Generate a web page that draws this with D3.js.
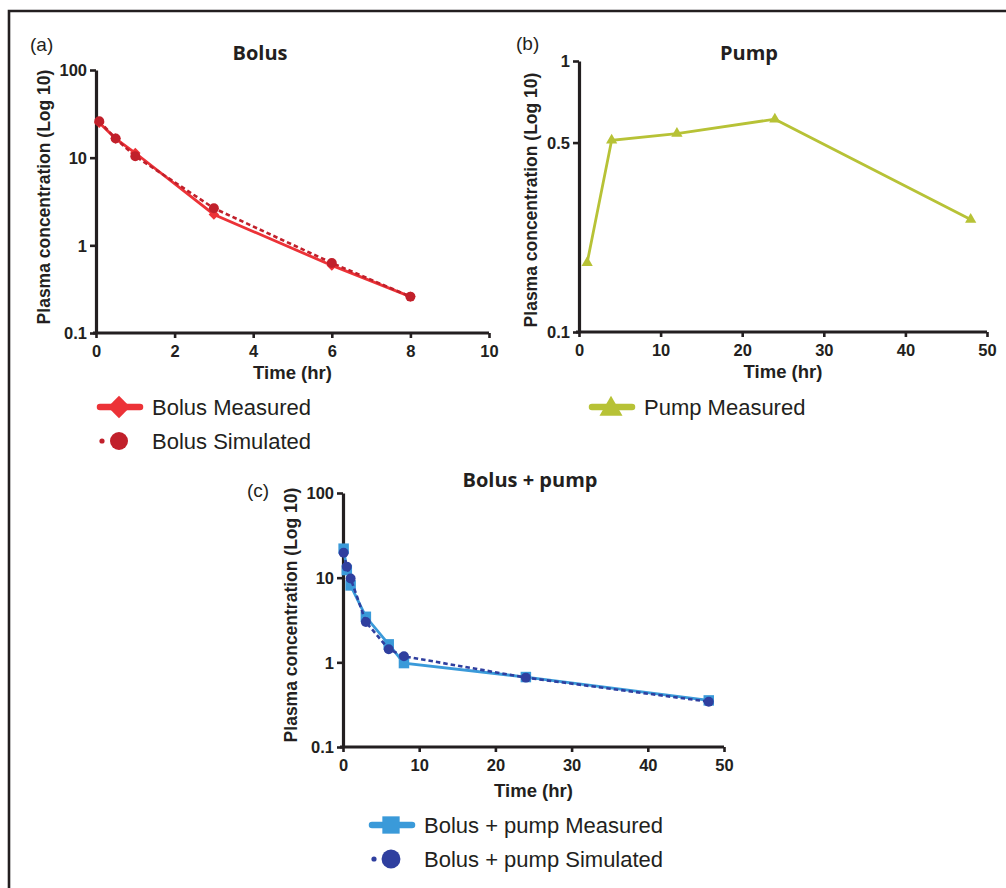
<!DOCTYPE html>
<html>
<head>
<meta charset="utf-8">
<script src="https://cdn.jsdelivr.net/npm/d3@7"></script>
<style>
  body { margin: 0; background: #fff; }
  svg { display: block; }
</style>
</head>
<body>
<div id="chart"></div>
<script type="text/javascript">
  const width = 1006,
    height = 888;

  // data (time in hr, concentration)
  const bolusTime = [0.083, 0.5, 1, 3, 6, 8];
  const bolusMeasured = [25, 16.5, 11.3, 2.25, 0.59, 0.26];
  const bolusSimulated = [26, 16.5, 10.4, 2.65, 0.63, 0.26];

  const pumpTime = [1, 4, 12, 24, 48];
  const pumpMeasured = [0.18, 0.51, 0.54, 0.61, 0.26];

  const bpTime = [0.083, 0.5, 1, 3, 6, 8, 24, 48];
  const bpMeasured = [22, 12.3, 8.1, 3.45, 1.63, 0.98, 0.67, 0.355];
  const bpSimulated = [19.7, 13.5, 9.8, 3.0, 1.43, 1.18, 0.66, 0.343];

  const logTicks = [0.1, 1, 10, 100];
  const logTickLabels = ["0.1", "1", "10", "100"];
  const pumpTicks = [0.1, 0.5, 1];
  const pumpTickLabels = ["0.1", "0.5", "1"];
  const bolusXTicks = [0, 2, 4, 6, 8, 10];
  const longXTicks = [0, 10, 20, 30, 40, 50];

  const col = {
    bolusM: "#ec3237",
    bolusS: "#c1202b",
    pump: "#b7c236",
    bpM: "#3a9ad9",
    bpS: "#2f3f9f"
  };
  const ink = "#231f20";
  const sans = "Liberation Sans, Arial, Helvetica, sans-serif";

  const svg = d3.select("#chart").append("svg")
    .attr("width", width)
    .attr("height", height);

  // frame (only top and left visible in the crop)
  svg.append("path")
    .attr("d", "M9," + height + " V11 H" + width)
    .attr("fill", "none")
    .attr("stroke", ink)
    .attr("stroke-width", 2.6);

  // square turned 45deg for the diamond markers
  function symbolPath(type, size) {
    if (type === "diamond") return d3.symbol().type(d3.symbolSquare).size(size)();
    return d3.symbol().type(type).size(size)();
  }
  function symbolRot(type) { return type === "diamond" ? " rotate(45)" : ""; }

  function panel(p) {
    const g = svg.append("g");
    const x = d3.scaleLinear().domain(p.xDomain).range(p.xRange);
    const y = d3.scaleLog().domain(p.yDomain).range(p.yRange);

    // axes
    const xAxis = d3.axisBottom(x).tickValues(p.xTicks).tickSize(5).tickSizeOuter(0).tickPadding(7);
    const yAxis = d3.axisLeft(y).tickValues(p.yTicks)
      .tickFormat(function(d, i) { return p.yLabels[i]; })
      .tickSize(6).tickSizeOuter(0).tickPadding(3);

    const gx = g.append("g").attr("transform", "translate(0," + p.yRange[0] + ")").call(xAxis);
    const gy = g.append("g").attr("transform", "translate(" + p.xRange[0] + ",0)").call(yAxis);
    [gx, gy].forEach(function(a) {
      a.select(".domain").attr("stroke", ink).attr("stroke-width", 3.2);
      a.selectAll(".tick line").attr("stroke", ink).attr("stroke-width", 2.6);
      a.selectAll(".tick text")
        .attr("fill", ink)
        .style("font-family", sans)
        .style("font-weight", "bold")
        .style("font-size", "16.5px");
    });
    gx.select(".domain").attr("d", "M" + (p.xRange[0] - 3) + ",0H" + p.xRange[1]);
    gy.selectAll(".tick text").attr("dy", "0.36em");

    // labels
    g.append("text")
      .attr("x", (p.xRange[0] + p.xRange[1]) / 2)
      .attr("y", p.yRange[0] + p.xLabelOff)
      .attr("text-anchor", "middle")
      .style("font-family", sans)
      .style("font-weight", "bold")
      .style("font-size", "18.5px")
      .style("fill", ink)
      .text("Time (hr)");

    g.append("text")
      .attr("transform", "translate(" + p.yLabelX + "," + p.yLabelY + ") rotate(-90)")
      .attr("text-anchor", "middle")
      .style("font-family", sans)
      .style("font-weight", "bold")
      .style("font-size", "17.5px")
      .style("fill", ink)
      .text("Plasma concentration (Log 10)");

    g.append("text")
      .attr("x", p.titleX)
      .attr("y", p.titleY)
      .attr("text-anchor", "middle")
      .style("font-family", "Open Sans, sans-serif")
      .style("font-weight", "bold")
      .style("font-size", "20px")
      .style("fill", ink)
      .text(p.title);

    g.append("text")
      .attr("x", p.tagX)
      .attr("y", p.tagY)
      .style("font-family", sans)
      .style("font-size", "19px")
      .style("fill", ink)
      .text(p.tag);

    const line = d3.line()
      .x(function(d) { return x(d[0]); })
      .y(function(d) { return y(d[1]); });

    p.series.forEach(function(s) {
      const pts = d3.zip(s.t, s.v);
      g.append("path")
        .datum(pts)
        .attr("d", line)
        .attr("fill", "none")
        .attr("stroke", s.color)
        .attr("stroke-width", s.dash ? 2.6 : 2.8)
        .attr("stroke-dasharray", s.dash ? "4.5,3" : null);
      g.selectAll(null)
        .data(pts)
        .enter().append("path")
        .attr("transform", function(d) { return "translate(" + x(d[0]) + "," + y(d[1]) + ")" + symbolRot(s.symbol); })
        .attr("d", symbolPath(s.symbol, s.size))
        .attr("fill", s.color);
    });
  }

  panel({
    xDomain: [0, 10], xRange: [96, 489], xTicks: bolusXTicks,
    yDomain: [0.1, 100], yRange: [333, 70], yTicks: logTicks, yLabels: logTickLabels,
    yLabelX: 50, yLabelY: 197, xLabelOff: 46,
    title: "Bolus", titleX: 260, titleY: 60, tag: "(a)", tagX: 30, tagY: 51,
    series: [
      { t: bolusTime, v: bolusMeasured, color: col.bolusM, symbol: "diamond", size: 55 },
      { t: bolusTime, v: bolusSimulated, color: col.bolusS, symbol: d3.symbolCircle, size: 78, dash: true }
    ]
  });

  panel({
    xDomain: [0, 50], xRange: [579, 987], xTicks: longXTicks,
    yDomain: [0.1, 1], yRange: [332, 61], yTicks: pumpTicks, yLabels: pumpTickLabels,
    yLabelX: 537, yLabelY: 200, xLabelOff: 46,
    title: "Pump", titleX: 749, titleY: 60, tag: "(b)", tagX: 516, tagY: 50,
    series: [
      { t: pumpTime, v: pumpMeasured, color: col.pump, symbol: d3.symbolTriangle, size: 55 }
    ]
  });

  panel({
    xDomain: [0, 50], xRange: [343, 724], xTicks: longXTicks,
    yDomain: [0.1, 100], yRange: [747, 493], yTicks: logTicks, yLabels: logTickLabels,
    yLabelX: 297, yLabelY: 615, xLabelOff: 50,
    title: "Bolus + pump", titleX: 530, titleY: 487, tag: "(c)", tagX: 247, tagY: 497,
    series: [
      { t: bpTime, v: bpMeasured, color: col.bpM, symbol: d3.symbolSquare, size: 110 },
      { t: bpTime, v: bpSimulated, color: col.bpS, symbol: d3.symbolCircle, size: 78, dash: true }
    ]
  });

  // legends
  const legendItems = [
    { x: 100, y: 407, text: "Bolus Measured", color: col.bolusM, symbol: "diamond", size: 250, dash: false },
    { x: 100, y: 441, text: "Bolus Simulated", color: col.bolusS, symbol: d3.symbolCircle, size: 255, dash: true },
    { x: 592, y: 407, text: "Pump Measured", color: col.pump, symbol: d3.symbolTriangle, size: 230, dash: false },
    { x: 372, y: 825, text: "Bolus + pump Measured", color: col.bpM, symbol: d3.symbolSquare, size: 300, dash: false },
    { x: 372, y: 859, text: "Bolus + pump Simulated", color: col.bpS, symbol: d3.symbolCircle, size: 280, dash: true }
  ];

  const legend = svg.append("g");
  legendItems.forEach(function(d) {
    const g = legend.append("g").attr("transform", "translate(" + d.x + "," + d.y + ")");
    if (d.dash) {
      g.append("circle").attr("cx", 2).attr("cy", 0).attr("r", 2.6).attr("fill", d.color);
    } else {
      g.append("line").attr("x1", 0).attr("x2", 40).attr("y1", 0).attr("y2", 0)
        .attr("stroke", d.color).attr("stroke-width", 6.5).attr("stroke-linecap", "round");
    }
    g.append("path")
      .attr("transform", "translate(19," + (d.symbol === d3.symbolTriangle ? 2 : 0) + ")" + symbolRot(d.symbol))
      .attr("d", symbolPath(d.symbol, d.size))
      .attr("fill", d.color);
    g.append("text")
      .attr("x", 52)
      .attr("y", 8)
      .style("font-family", sans)
      .style("font-size", "22px")
      .style("fill", ink)
      .text(d.text);
  });
</script>
</body>
</html>
